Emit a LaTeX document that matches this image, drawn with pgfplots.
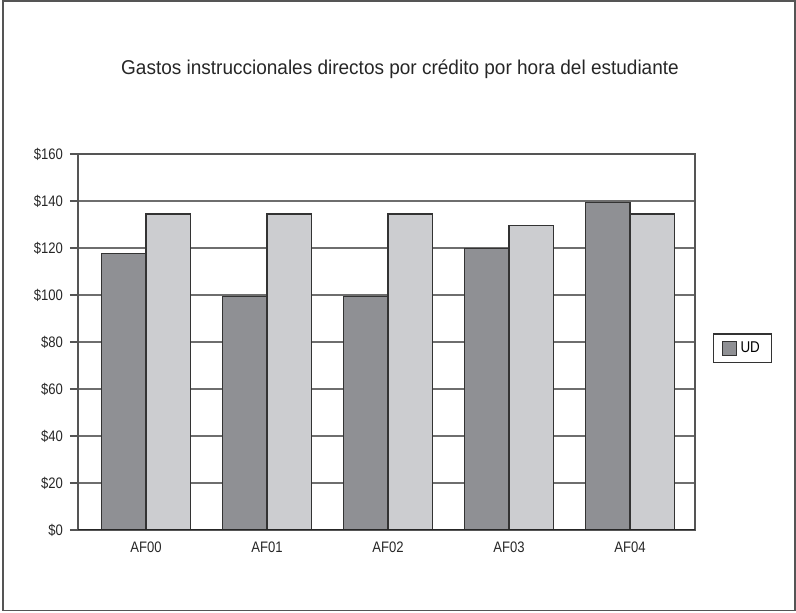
\documentclass[border=0pt]{standalone}
\usepackage{fontspec}
\setmainfont{Liberation Sans}[FakeStretch=0.86]
\newfontfamily\titlefont{Liberation Sans}[FakeStretch=0.95]
\usepackage{pgfplots}
\pgfplotsset{compat=1.18}

\definecolor{barDark}{HTML}{8F9094}
\definecolor{barLight}{HTML}{CCCDD0}
\definecolor{edgeC}{HTML}{333333}
\definecolor{gridC}{HTML}{6E6E6E}
\definecolor{frameC}{HTML}{555555}

\begin{document}
\begin{tikzpicture}
  % page area and outer frame
  \useasboundingbox (-39pt,-41.5pt) rectangle (359pt,265pt);
  \draw[frameC, line width=0.9pt] (-37.6pt,-40.3pt) rectangle (358.3pt,264.5pt);

  \node[font=\titlefont\fontsize{10}{12}\selectfont, text=black!85] at (161pt,230.5pt)
    {Gastos instruccionales directos por crédito por hora del estudiante};

  \begin{axis}[
    at={(0pt,0pt)}, anchor=south west,
    scale only axis,
    width=308.5pt, height=188pt,
    ybar, bar width=22.25pt,
    xmin=-0.562, xmax=4.537,
    ymin=0, ymax=160,
    xtick={0,1,2,3,4},
    xticklabels={AF00,AF01,AF02,AF03,AF04},
    ytick={0,20,40,60,80,100,120,140,160},
    yticklabels={\$0,\$20,\$40,\$60,\$80,\$100,\$120,\$140,\$160},
    ymajorgrids,
    grid style={gridC, line width=0.55pt},
    axis line style={frameC, line width=0.6pt},
    tick align=outside,
    ytick pos=left,
    major tick length=4pt,
    ytick style={frameC, line width=0.6pt},
    xtick style={draw=none},
    tick label style={font=\fontsize{7.6}{9}\selectfont, text=black!85},
    xticklabel style={yshift=1.5pt},
    legend style={
      at={(1.029,0.483)}, anchor=west,
      draw=edgeC, line width=0.6pt,
      font=\fontsize{7.8}{9}\selectfont,
      inner xsep=4pt, inner ysep=1.8pt,
      legend cell align=left,
    },
    legend image code/.code={
      \draw[#1, draw=edgeC, line width=0.5pt] (0pt,-3.5pt) rectangle (7pt,3.5pt);
    },
  ]
    % the two series sit side by side, each half a bar off the category
    \addplot[fill=barDark, draw=edgeC, line width=0.6pt, bar shift=-11.125pt]
      coordinates {(0,117.5) (1,99.5) (2,99.5) (3,119.8) (4,139.4)};
    \addlegendentry{UD}
    \addplot[fill=barLight, draw=edgeC, line width=0.6pt, bar shift=11.125pt, forget plot]
      coordinates {(0,134.5) (1,134.5) (2,134.5) (3,129.6) (4,134.5)};
    % heavier baseline at zero
    \draw[black!85, line width=1pt] (axis cs:-0.562,0) -- (axis cs:4.537,0);
  \end{axis}
\end{tikzpicture}
\end{document}
